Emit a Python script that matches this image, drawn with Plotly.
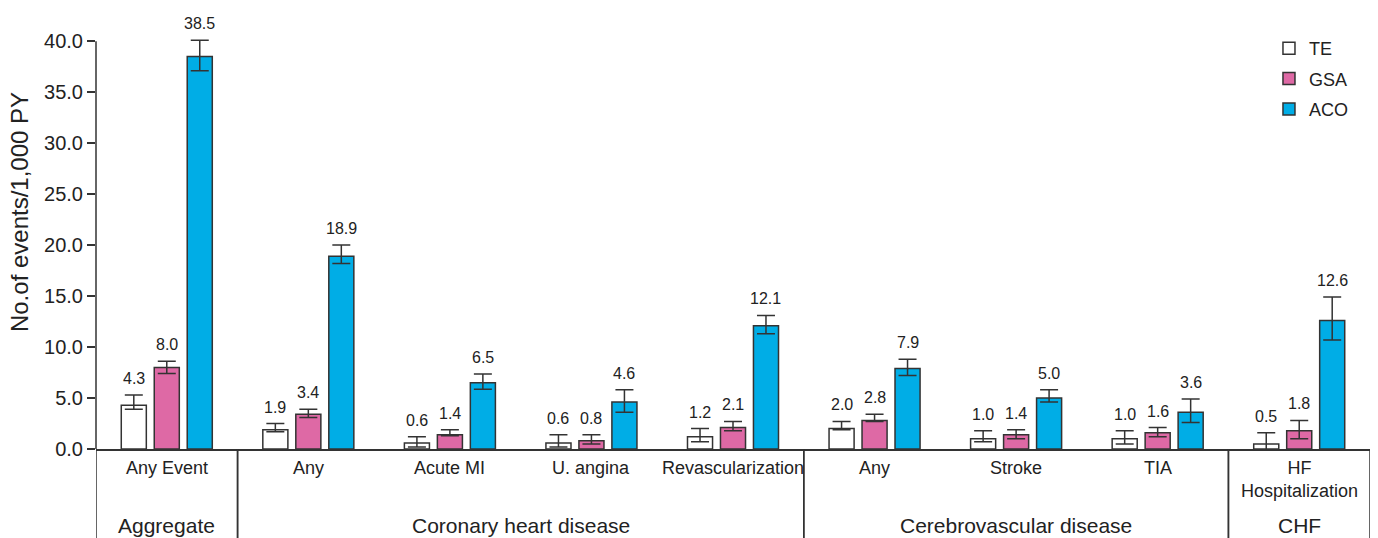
import plotly.graph_objects as go

# Event rates per 1,000 person-years with confidence limits
categories = ["Any Event", "Any", "Acute MI", "U. angina", "Revascularization",
              "Any", "Stroke", "TIA", "HF<br>Hospitalization"]

te_rate = [4.3, 1.9, 0.6, 0.6, 1.2, 2.0, 1.0, 1.0, 0.5]
te_upper = [5.3, 2.5, 1.2, 1.4, 2.0, 2.7, 1.8, 1.8, 1.6]
te_lower = [3.9, 1.7, 0.2, 0.2, 0.7, 1.9, 0.7, 0.5, -0.3]

gsa_rate = [8.0, 3.4, 1.4, 0.8, 2.1, 2.8, 1.4, 1.6, 1.8]
gsa_upper = [8.6, 3.9, 1.9, 1.4, 2.7, 3.4, 1.9, 2.1, 2.8]
gsa_lower = [7.4, 3.1, 1.3, 0.5, 1.8, 2.7, 1.0, 1.2, 1.0]

aco_rate = [38.5, 18.9, 6.5, 4.6, 12.1, 7.9, 5.0, 3.6, 12.6]
aco_upper = [40.1, 20.0, 7.35, 5.8, 13.1, 8.8, 5.8, 4.9, 14.9]
aco_lower = [37.1, 18.2, 5.85, 3.6, 11.3, 7.2, 4.6, 2.6, 10.7]

group_names = ["Aggregate", "Coronary heart disease", "Cerebrovascular disease", "CHF"]
group_first = [0, 1, 5, 8]
group_last = [0, 4, 7, 8]

y_ticks = [0, 5, 10, 15, 20, 25, 30, 35, 40]

INK = "#333333"
TEXT = "#222222"
FONT = "Liberation Sans, Arial, Helvetica, sans-serif"

series = [
    ("TE", te_rate, te_upper, te_lower, "#ffffff"),
    ("GSA", gsa_rate, gsa_upper, gsa_lower, "#de69a5"),
    ("ACO", aco_rate, aco_upper, aco_lower, "#00ade6"),
]

BAR_W = 0.177
STEP = 0.233
xs = list(range(len(categories)))

fig = go.Figure()
annotations = []
for k, (name, rate, up, lo, color) in enumerate(series):
    shift = (k - 1) * STEP
    fig.add_trace(go.Bar(
        name=name, x=xs, y=rate,
        width=BAR_W, offset=shift - BAR_W / 2,
        marker=dict(color=color, line=dict(color=INK, width=1.5)),
        error_y=dict(type="data", symmetric=False,
                     array=[u - r for u, r in zip(up, rate)],
                     arrayminus=[r - l for r, l in zip(rate, lo)],
                     color=INK, thickness=1.5, width=9),
        legendgroup=name, cliponaxis=False,
    ))
    for i, (r, u) in enumerate(zip(rate, up)):
        annotations.append(dict(
            x=i + shift, y=u, xref="x", yref="y", text=f"{r:.1f}",
            showarrow=False, yanchor="bottom", yshift=6,
            font=dict(size=16, color=TEXT, family=FONT)))

# category labels under the axis
for i, c in enumerate(categories):
    annotations.append(dict(
        x=i, y=-0.017, xref="x", yref="paper", text=c, showarrow=False,
        yanchor="top", font=dict(size=18, color=TEXT, family=FONT)))

# group labels and separators of the category table
shapes = []
for g, a, b in zip(group_names, group_first, group_last):
    annotations.append(dict(
        x=(a + b) / 2, y=-0.184, xref="x", yref="paper", text=g, showarrow=False,
        yanchor="middle", font=dict(size=21, color=TEXT, family=FONT)))
    for edge in (a - 0.5, b + 0.5):
        shapes.append(dict(type="line", xref="x", yref="paper",
                           x0=edge, x1=edge, y0=0, y1=-0.3,
                           line=dict(color=INK, width=1.5)))

# y-axis line, ending at the top tick
shapes.append(dict(type="line", xref="paper", yref="y",
                   x0=0, x1=0, y0=0, y1=y_ticks[-1],
                   line=dict(color=INK, width=1.5)))

# y-axis title
annotations.append(dict(
    x=-0.0596, y=0.567, xref="paper", yref="paper",
    xanchor="center", yanchor="middle",
    text="No.of events/1,000 PY", textangle=-90, showarrow=False,
    font=dict(size=24, color=TEXT, family=FONT)))

fig.update_layout(
    width=1378, height=538,
    margin=dict(l=96, r=8, t=31, b=89),
    paper_bgcolor="white", plot_bgcolor="white",
    barmode="group",
    font=dict(family=FONT, color=TEXT),
    showlegend=True,
    legend=dict(x=0.9207, y=1.0024, xanchor="left", yanchor="top",
                font=dict(size=18, color=TEXT, family=FONT),
                traceorder="grouped", tracegroupgap=4,
                bgcolor="rgba(0,0,0,0)"),
    xaxis=dict(range=[-0.5, len(categories) - 0.5], showticklabels=False,
               ticks="", showgrid=False, zeroline=False,
               showline=True, linecolor=INK, linewidth=1.5),
    yaxis=dict(range=[0, 41], tickvals=y_ticks,
               ticktext=[f"{v:.1f}" for v in y_ticks],
               ticks="outside", ticklen=8, tickcolor=INK, tickwidth=1.5,
               showgrid=False, zeroline=False, showline=False,
               tickfont=dict(size=20, color=TEXT, family=FONT)),
    annotations=annotations,
    shapes=shapes,
)

fig.write_html("out.html")
